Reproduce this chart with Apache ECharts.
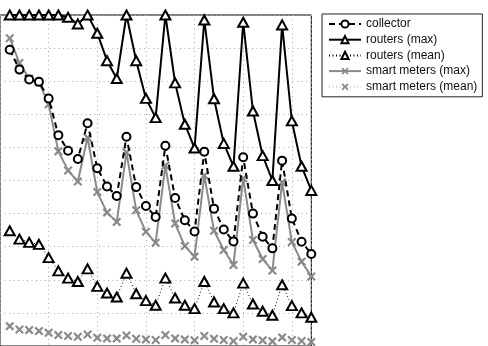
<!DOCTYPE html>
<html>
<head>
<meta charset="utf-8">
<script src="https://cdn.jsdelivr.net/npm/echarts@6/dist/echarts.min.js"></script>
<style>
html,body{margin:0;padding:0;background:#fff;}
#chart{width:488px;height:346px;}
</style>
</head>
<body>
<div id="chart"></div>
<script>
// x positions (sample index)
const xValues = [1,2,3,4,5,6,7,8,9,10,11,12,13,14,15,16,17,18,19,20,21,22,23,24,25,26,27,28,29,30,31,32];

const collector = [8.95,8.35,8.05,7.98,7.48,6.37,5.9,5.65,6.73,5.37,4.82,4.53,6.32,4.8,4.23,3.9,
                   6.05,4.47,3.8,3.46,5.87,4.15,3.52,3.16,5.7,4.0,3.3,2.95,5.6,3.85,3.15,2.78];
const routersMax = [10,10,10,10,10,10,9.93,9.73,10,9.45,8.62,8.08,10,8.62,7.48,6.9,
                    10,7.95,6.7,5.98,9.85,7.47,6.12,5.43,9.78,7.1,5.75,5.0,9.7,6.8,5.43,4.7];
const routersMean = [3.48,3.23,3.13,3.07,2.67,2.27,2.05,1.95,2.33,1.8,1.6,1.48,2.2,1.58,1.37,1.23,
                     2.05,1.45,1.23,1.13,1.95,1.33,1.13,1.0,1.9,1.27,1.05,0.93,1.85,1.22,1.0,0.87];
const smartMax = [9.3,8.55,8.08,7.97,7.3,5.88,5.3,4.97,6.3,4.65,4.03,3.75,5.85,4.1,3.45,3.12,
                  5.45,3.7,3.02,2.7,5.15,3.48,2.9,2.45,5.07,3.2,2.63,2.28,4.95,3.14,2.55,2.1];
const smartMean = [0.6,0.5,0.48,0.45,0.4,0.33,0.3,0.28,0.35,0.25,0.23,0.23,0.32,0.22,0.2,0.18,
                   0.33,0.23,0.2,0.17,0.3,0.22,0.18,0.15,0.28,0.2,0.17,0.14,0.26,0.18,0.15,0.12];

const seriesNames = ['collector','routers (max)','routers (mean)','smart meters (max)','smart meters (mean)'];

const GRAY = '#8a8a8a';
const XPATH = 'path://M0,1.7L1.7,0L5,3.3L8.3,0L10,1.7L6.7,5L10,8.3L8.3,10L5,6.7L1.7,10L0,8.3L3.3,5Z';

function pairs(arr){ return arr.map((v,i)=>[xValues[i], v]); }

const chart = echarts.init(document.getElementById('chart'), null, {renderer:'canvas'});

const option = {
  animation: false,
  backgroundColor: '#fff',
  grid: {
    left: -2.3, top: 15, width: 313.6, height: 333.3,
    show: true, borderColor: '#000', borderWidth: 1, backgroundColor: 'transparent'
  },
  xAxis: {
    type: 'value', min: 0, max: 32, interval: 5,
    axisLine: {show: false}, axisTick: {show: false}, axisLabel: {show: false},
    splitLine: {show: true, lineStyle: {color: '#aaaaaa', type: [1,3.5], width: 1}}
  },
  yAxis: {
    type: 'value', min: 0, max: 10, interval: 1,
    axisLine: {show: false}, axisTick: {show: false}, axisLabel: {show: false},
    splitLine: {show: true, lineStyle: {color: '#aaaaaa', type: [1,3.5], width: 1}}
  },
  legend: {
    orient: 'vertical', left: 322, top: 14,
    data: seriesNames,
    backgroundColor: '#fff', borderColor: '#222', borderWidth: 1,
    padding: [3, 5, 3, 6],
    itemWidth: 32, itemHeight: 9, itemGap: 1.7,
    textStyle: {fontFamily: 'Liberation Sans, Arial, sans-serif', fontSize: 12, color: '#111', lineHeight: 14}
  },
  series: [
    {
      name: seriesNames[0], type: 'line', data: pairs(collector), clip: false,
      symbol: 'circle', symbolSize: 8, showSymbol: true,
      lineStyle: {color: '#000', width: 2, type: [6,4]},
      itemStyle: {color: '#fff', borderColor: '#000', borderWidth: 2},
      z: 4
    },
    {
      name: seriesNames[1], type: 'line', data: pairs(routersMax), clip: false,
      symbol: 'triangle', symbolSize: [10,9],
      lineStyle: {color: '#000', width: 2, type: 'solid'},
      itemStyle: {color: '#fff', borderColor: '#000', borderWidth: 2},
      z: 5
    },
    {
      name: seriesNames[2], type: 'line', data: pairs(routersMean), clip: false,
      symbol: 'triangle', symbolSize: [10,9],
      lineStyle: {color: '#000', width: 1, type: [1,2.5]},
      itemStyle: {color: '#fff', borderColor: '#000', borderWidth: 2},
      z: 3
    },
    {
      name: seriesNames[3], type: 'line', data: pairs(smartMax), clip: false,
      symbol: XPATH, symbolSize: 9,
      lineStyle: {color: GRAY, width: 2, type: 'solid'},
      itemStyle: {color: GRAY, borderWidth: 0},
      z: 3
    },
    {
      name: seriesNames[4], type: 'line', data: pairs(smartMean), clip: false,
      symbol: XPATH, symbolSize: 9,
      lineStyle: {color: '#c8c8c8', width: 1, type: [1,2.5]},
      itemStyle: {color: GRAY, borderWidth: 0},
      z: 2
    }
  ]
};
chart.setOption(option);
</script>
</body>
</html>
